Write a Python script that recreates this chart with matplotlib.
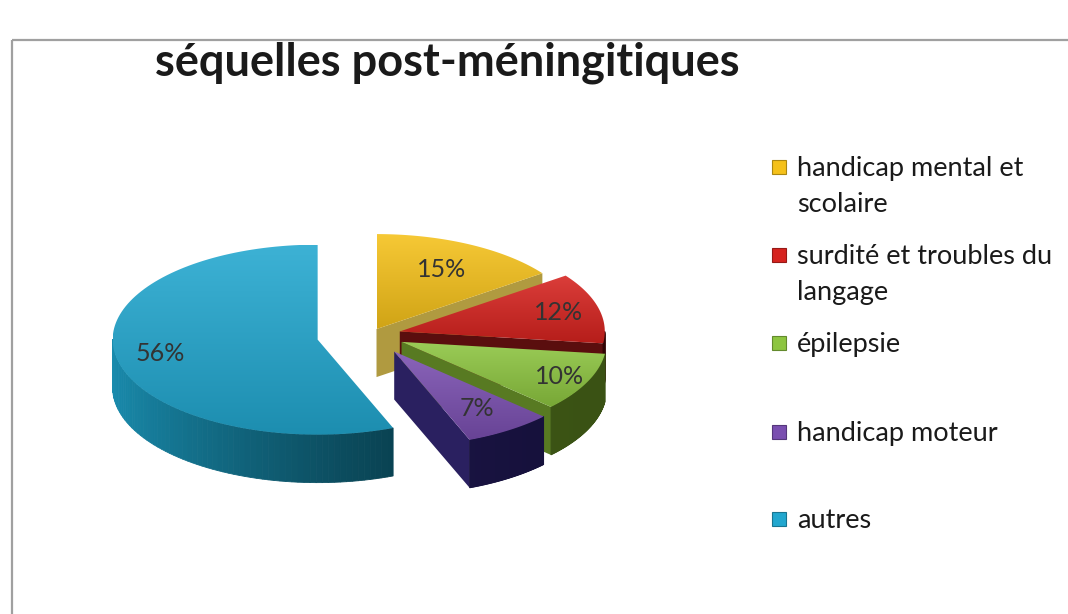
import numpy as np
import matplotlib.pyplot as plt
from matplotlib.patches import Polygon, Rectangle
from matplotlib.colors import to_rgb

# data
labels = ['handicap mental et\nscolaire', 'surdité et troubles du\nlangage',
          'épilepsie', 'handicap moteur', 'autres']
values = [15, 12, 10, 7, 56]
pct_text = ['15%', '12%', '10%', '7%', '56%']

# style
top_colors = ['#F5C11A', '#D6231F', '#8DC540', '#7A4FB0', '#22A7CF']
wall_light = ['#B09A40', '#5A0E0E', '#587A22', '#2A2060', '#1A90B3']
wall_dark = ['#8A7730', '#300505', '#3A5214', '#15103A', '#06333F']
explode = [0.07, 0.15, 0.17, 0.21, 0.26]
label_r = [0.7, 0.8, 0.85, 0.72, 0.78]

cx0, cy0 = 370, 335
rx, ry, depth = 205, 95, 48

fig = plt.figure(figsize=(10.68, 6.14), dpi=100)
ax = fig.add_axes([0, 0, 1, 1])
ax.set_xlim(0, 1068)
ax.set_ylim(614, 0)
ax.axis('off')

ax.add_patch(Rectangle((12, 40), 1080, 620, fill=False, ec='#a0a0a0', lw=1.6, clip_on=False))


def mix(c1, c2, w):
    a, b = np.array(to_rgb(c1)), np.array(to_rgb(c2))
    return tuple(a * w + b * (1 - w))


total = sum(values)
hi_angles = 90 - 360 * np.concatenate([[0], np.cumsum(values)[:-1]]) / total
lo_angles = hi_angles - 360 * np.array(values) / total

slices = []
for i in range(len(values)):
    lo, hi = lo_angles[i], hi_angles[i]
    m = np.radians((lo + hi) / 2)
    cx = cx0 + explode[i] * rx * np.cos(m)
    cy = cy0 - explode[i] * ry * np.sin(m)
    slices.append((cy - ry * 0.5 * np.sin(m), i, lo, hi, cx, cy, m))

for _, i, lo, hi, cx, cy, m in sorted(slices):
    t = np.radians(np.linspace(lo, hi, 120))
    ax_ = cx + rx * np.cos(t)
    ay_ = cy - ry * np.sin(t)
    # radial walls
    for a, vis in [(lo, np.cos(np.radians(lo)) > 1e-6), (hi, np.cos(np.radians(hi)) < -1e-6)]:
        if vis:
            px = cx + rx * np.cos(np.radians(a))
            py = cy - ry * np.sin(np.radians(a))
            ax.add_patch(Polygon([(cx, cy), (px, py), (px, py + depth), (cx, cy + depth)],
                                 closed=True, fc=wall_light[i], ec='none'))
    # curved wall
    for k in range(len(t) - 1):
        if np.sin((t[k] + t[k + 1]) / 2) < 0:
            w = (np.cos((t[k] + t[k + 1]) / 2 - np.radians(160)) + 1) / 2
            col = mix(wall_light[i], wall_dark[i], w)
            ax.add_patch(Polygon([(ax_[k], ay_[k]), (ax_[k + 1], ay_[k + 1]),
                                  (ax_[k + 1], ay_[k + 1] + depth), (ax_[k], ay_[k] + depth)],
                                 closed=True, fc=col, ec=col, lw=0.6))
    # top face with gradient
    verts = [(cx, cy)] + list(zip(ax_, ay_))
    poly = Polygon(verts, closed=True, fc='none', ec='none')
    ax.add_patch(poly)
    xs = [v[0] for v in verts]
    ys = [v[1] for v in verts]
    grad = np.linspace(0, 1, 64)[:, None]
    c1 = np.array(mix(top_colors[i], '#ffffff', 0.88))
    c2 = np.array(mix(top_colors[i], '#000000', 0.85))
    img = c1[None, None, :] * (1 - grad[:, :, None]) + c2[None, None, :] * grad[:, :, None]
    im = ax.imshow(img, extent=(min(xs), max(xs), max(ys), min(ys)), aspect='auto',
                   interpolation='bilinear', zorder=poly.get_zorder())
    im.set_clip_path(poly)
    # label
    lx = cx + label_r[i] * rx * np.cos(m)
    ly = cy - label_r[i] * ry * np.sin(m)
    ax.text(lx, ly, pct_text[i], ha='center', va='center', fontsize=18,
            family='Lato', color='#333333', zorder=5)

ax.set_xlim(0, 1068)
ax.set_ylim(614, 0)

ax.text(155, 63, 'séquelles post-méningitiques', ha='left', va='center',
        fontsize=32.5, fontweight='bold', family='Lato', color='#1a1a1a')

# legend
row_y = [167, 255, 343, 432, 519]
for i, lab in enumerate(labels):
    ax.add_patch(Rectangle((772, row_y[i] - 7), 14, 14, fc=top_colors[i],
                           ec=mix(top_colors[i], '#000000', 0.7), lw=0.8))
    for k, line in enumerate(lab.split('\n')):
        ax.text(797, row_y[i] + 9 + 36 * k, line, ha='left', va='baseline',
                fontsize=19.5, family='Lato', color='#1a1a1a')

fig.savefig('out.png', dpi=100)
